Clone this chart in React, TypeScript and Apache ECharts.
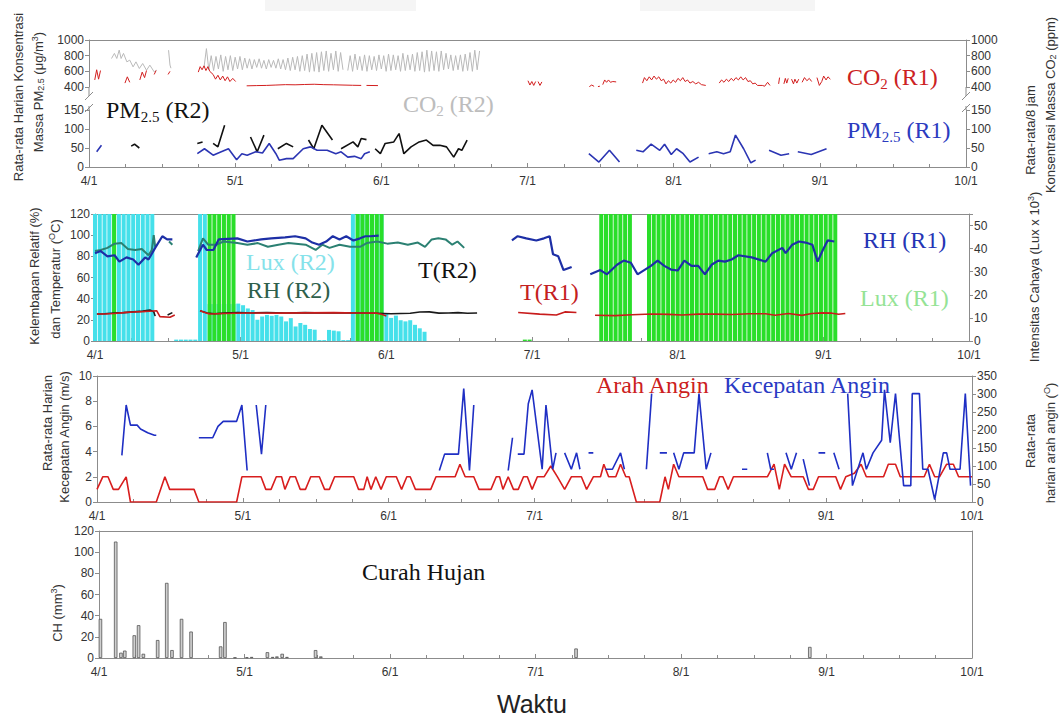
import React, { useEffect, useRef } from 'react';
import * as echarts from 'echarts';

type Pt = [number, number | null];

// ---------- axes / ticks ----------
const MONTHS = ['4/1', '5/1', '6/1', '7/1', '8/1', '9/1', '10/1'];
const DAY_SPAN = 183; // 4/1 .. 10/1 (day index)
const MONTH_STEP = 30.5;

// ---------- Panel 1: CO2 (ppm) and PM2.5 (ug/m3) ----------
const co2R2Seg1: Pt[] = [[4.7, 764], [5.3, 829], [5.8, 764], [6.3, 871], [6.7, 764], [7.2, 829], [7.9, 721], [8.5, 743], [9.2, 657], [9.8, 721], [10.5, 636], [11.2, 700], [12.0, 614], [12.7, 679], [13.6, 593], [14.1, 614]];
const co2R2Seg2: Pt[] = [[16.6, 870], [16.9, 680], [17.1, 640]];
const co2R2StartDay = 24;
const co2R2Trough = [650, 620, 610, 630, 600, 620, 610, 630, 620, 640, 630, 650, 640, 630, 650, 640, 630, 620, 610, 620, 600, 610, 590, 600, 590, 610, 600, 620, 600, 620, 610, 600, 620, 610, 600, 620, 610, 630, 600, 610, 620, 600, 610, 620, 600, 610, 590, 600, 610, 600, 620, 630, 610, 620, 600, 610, 600, 620];
const co2R2Peak = [890, 800, 790, 810, 790, 800, 780, 790, 770, 760, 750, 760, 740, 750, 740, 760, 750, 770, 780, 790, 800, 820, 830, 840, 850, 860, 830, 860, 840, null, 800, 820, 790, 810, 800, 790, 810, 800, 820, 810, 800, 830, 810, 820, 840, 850, 870, 860, 850, 860, 830, 810, 800, 810, 820, 840, 870, 860];

const co2R1Segs: Pt[][] = [
  [[1.2, 490], [1.6, 620], [2.0, 500], [2.4, 610]],
  [[7.5, 450], [8.0, 530], [8.5, 460]],
  [[10.6, 490], [11.1, 590], [11.6, 520], [12.0, 610]],
  [[13.6, 560], [14.0, 610]],
  [[16.5, 560], [16.9, 600]],
  [[22.8, 590], [23.2, 660], [23.6, 620], [24.0, 670], [24.4, 610], [24.8, 660], [25.2, 600], [25.9, 560], [26.4, 500], [26.9, 550], [27.4, 490], [27.9, 540], [28.4, 480], [28.9, 530], [29.4, 470], [30.0, 510], [30.6, 470]],
  [[32.9, 415], [35, 418], [37, 420], [39, 425], [41, 430], [43, 428], [45, 432], [47, 435], [49, 430], [51, 428], [53, 425], [55, 422], [56.8, 420]],
  [[57.9, 420], [60.3, 418]],
  [[91.6, 480], [92.0, 425], [92.4, 470], [92.8, 420], [93.2, 470]],
  [[93.7, 470], [94.1, 420], [94.5, 465]],
  [[104.4, 405], [104.9, 425], [105.4, 408]],
  [[106.2, 405], [106.6, 410]],
  [[107.2, 430], [107.6, 490], [108.0, 460], [108.4, 490], [108.8, 460], [109.3, 470], [110.0, 465]],
  [[115.5, 450], [115.9, 520], [116.4, 480], [116.9, 530], [117.4, 490], [117.9, 540], [118.4, 500], [118.9, 530], [119.4, 480], [119.9, 500], [120.4, 440], [120.9, 480], [121.4, 450], [121.9, 490], [122.4, 460], [122.9, 510], [123.4, 480], [123.9, 520], [124.4, 470], [124.9, 490], [125.4, 450], [126, 470], [126.6, 440], [127.2, 460], [127.8, 430], [128.7, 420]],
  [[131.5, 450], [132, 490], [132.5, 460], [133, 500], [133.5, 470], [134, 510], [134.5, 480], [135, 520], [135.5, 490], [136, 530], [136.5, 490], [137, 520], [137.5, 470], [138, 480], [138.5, 440], [139, 450], [139.5, 420], [140.5, 420], [141, 410], [141.6, 460], [142.1, 420]],
  [[143.9, 440], [144.1, 520]],
  [[145.0, 440], [145.3, 510], [145.6, 450], [145.9, 510]],
  [[146.6, 500], [147.0, 440], [147.3, 500], [147.7, 450], [148.1, 500]],
  [[148.8, 460], [149.3, 520], [149.8, 480], [150.3, 510], [150.8, 470]],
  [[151.9, 520], [152.4, 420], [152.9, 470], [153.3, 540], [153.8, 490], [154.2, 530], [154.7, 500]],
];

const pm25R1Segs: Pt[][] = [
  [[1.6, 40], [2.6, 57]],
  [[22.6, 35], [24.1, 48], [25.9, 31], [27.6, 40], [29.1, 48], [30.8, 19], [31.9, 35], [33.0, 31], [34.8, 40], [36.2, 37], [37.6, 62], [39.0, 35], [39.7, 18], [41.2, 22], [42.6, 22], [44.7, 48], [46.2, 53], [47.6, 44], [49.7, 44], [51.5, 35], [52.6, 40], [54.0, 26], [55.4, 28], [56.8, 22], [57.5, 35], [58.6, 40]],
  [[104.3, 35], [106.4, 13], [108.6, 44], [110.7, 13]],
  [[114.2, 44], [115.6, 40], [117.3, 60], [119.1, 44], [120.1, 60], [121.5, 33], [122.6, 48], [124.0, 35], [125.4, 13], [127.2, 26]],
  [[129.3, 35], [131.0, 40], [132.4, 35], [133.8, 40], [134.9, 84], [136.6, 48], [138.1, 11], [139.1, 18]],
  [[141.9, 44], [144.4, 31], [146.1, 35]],
  [[147.9, 40], [150.7, 33], [153.9, 48]],
];

const pm25R2Segs: Pt[][] = [
  [[8.8, 55], [9.5, 60], [10.5, 50]],
  [[22.6, 62], [23.7, 66]],
  [[25.9, 62], [26.9, 53], [28.3, 110]],
  [[33.7, 79], [35.1, 40], [36.5, 84]],
  [[39.4, 48], [41.2, 62], [42.6, 53]],
  [[45.8, 71], [46.9, 48], [48.6, 110], [50.8, 71]],
  [[52.6, 48], [55.1, 66], [56.1, 53], [56.8, 75], [57.9, 72]],
  [[59.7, 48], [60.8, 35], [61.8, 62], [63.6, 66], [64.7, 88], [65.7, 35], [67.2, 53], [68.9, 66], [70.4, 71], [71.8, 57], [73.2, 57], [74.6, 53], [76.1, 26], [77.1, 48], [77.8, 44], [78.9, 71]],
];

// ---------- Panel 2: RH (%), T (C), Lux (x1000) ----------
const rhR1Segs: Pt[][] = [
  [[0, 83], [1.2, 85], [2.6, 80], [4.1, 81], [5.1, 75], [6.6, 79], [8.0, 77], [9.1, 72], [10.5, 79], [11.2, 77], [12.6, 88], [14.1, 99], [15.1, 96], [16.2, 96]],
  [[21.2, 79], [22.6, 91], [23.4, 86], [24.8, 86], [25.9, 96], [29.8, 97], [31.9, 94], [34.8, 96], [36.9, 97], [39.8, 98], [41.9, 99], [44.1, 97], [45.5, 93], [46.9, 91], [48.4, 94], [49.8, 99], [51.2, 96], [52.6, 99], [54.1, 95], [55.5, 97], [56.6, 99], [57.6, 99], [59.4, 99.5]],
  [[87.3, 95], [88.5, 99], [90.3, 97], [92.4, 95], [94, 97], [95.2, 99], [95.9, 82], [97, 80], [98.1, 67], [99.8, 70]],
  [[103.7, 63], [105.8, 67], [107.2, 63], [109.3, 72], [110.7, 76], [112.2, 74], [113.6, 63], [115.0, 67], [116.4, 71], [117.8, 76], [119.2, 71], [120.6, 67.5], [122.0, 66.6], [123.4, 76], [124.9, 71], [126.3, 71], [127.7, 63], [129.1, 72], [130.5, 76], [131.9, 75], [133.3, 77], [134.7, 81], [137.5, 79], [140.4, 75], [141.8, 83], [143.9, 88], [144.6, 83], [146.0, 91], [147.4, 94], [148.8, 93], [150.2, 91], [151.3, 75], [152.4, 86], [153.4, 95], [154.8, 94]],
];
const rhR2Segs: Pt[][] = [
  [[0, 85], [1.2, 86], [2.6, 88], [4.1, 92], [5.5, 92.5], [6.9, 87], [8.4, 86], [9.8, 87], [11.2, 81], [11.9, 86], [12.3, 100], [12.6, 89]],
  [[15.5, 94], [16.2, 91]],
  [[21.6, 85], [22.6, 97], [23.7, 91], [25.5, 91], [26.9, 94], [29.8, 92.5], [31.9, 91], [34.1, 92.5], [36.2, 89], [38.4, 91], [40.5, 92.5], [44.1, 91], [46.2, 86], [47.6, 91], [49.1, 88], [51.2, 91], [53.4, 89], [55.5, 89], [56.9, 92.5], [59.1, 94], [61.2, 92], [63.4, 93], [65.5, 91], [67.6, 93], [69.1, 89], [70.5, 96], [71.9, 97], [73.4, 96], [74.8, 91], [75.9, 94], [77.3, 88]],
];
const tR2Segs: Pt[][] = [
  [[0.4, 25.5], [2, 25.8], [4, 26.5], [6, 26.8], [8, 27.5], [10, 28.2], [11.5, 29.2], [12.3, 27.7], [12.6, 23.5]],
  [[15.2, 24.6], [16.2, 26.8]],
  [[22, 28.6], [23.5, 26.5], [25, 25.8], [27, 26.3], [30, 27], [33, 26.5], [36, 27], [40, 26.5], [44, 26.8], [48, 26.4], [52, 26.6], [56, 26.5], [59, 26.2], [62, 25.8], [66, 26.2], [68, 27.4], [70, 27.5], [72, 26.3], [74, 26.5], [76, 26.8], [78, 26.2], [80, 26.5]],
];
const tR1Segs: Pt[][] = [
  [[0.4, 25.5], [2, 25.5], [4, 26], [6, 26.8], [8, 27.4], [10, 27.8], [12, 28.3], [12.9, 28.6], [13.6, 23], [15.7, 22.5], [16.7, 24.6]],
  [[22, 28.6], [23, 27], [24, 25.5], [27, 26], [32, 26.5], [38, 26.3], [44, 26.6], [50, 26.8], [55, 26.5], [59, 26.3], [60, 25.2], [61, 23.7]],
  [[88.6, 27], [93.1, 25.4], [96.6, 24.5], [98.4, 27.5], [100.8, 26.9]],
  [[104.7, 24.4], [108.9, 24], [112.4, 24.8], [116.6, 25.5], [120.1, 25.2], [122.9, 24.6], [126.4, 25.4], [129.9, 25.4], [133.4, 25.1], [136.9, 25.8], [140.4, 25.7], [142.4, 24.4], [145.2, 26], [148, 24.2], [150.1, 26], [152.2, 26.6], [154.3, 26.3], [155.7, 25.2], [157.1, 26]],
];
// daily light intensity, first day given, values in Lux x 10^3 (60 = above the axis top)
const luxR2Start = 0;
const luxR2Daily = [60, 60, 60, 60, 60, 60, 60, 60, 60, 60, 60, 60, 60, null, null, null, null, 0.6, 0.6, 0.6, 0.6, 0.6, 60, 60, 16, 16, 16, 16, 16, 16, 16.2, 15.5, 14.1, 13.4, 9.2, 10.6, 11.3, 10.9, 11.3, 10.6, 8.5, 9.9, 6.3, 7.8, 7, 5.2, 4.9, 0.4, 0.4, 4.8, 4.5, 4.2, 0.4, 0.4, 60, 60, 60, 60, 60, 60, 60, 12, 10, 11, 9, 8.5, 9, 7, 5.5, 4];
const luxR1Blocks: { start: number; values: number[] }[] = [
  { start: 4, values: [60] },
  { start: 24, values: [60, 60, 60, 60, 60, 60] },
  { start: 55, values: [60, 60, 60, 60, 60, 60] },
  { start: 90, values: [0.6, 0.6] },
  { start: 106, values: [60, 60, 60, 60, 60, 60, 60] },
  { start: 116, values: [60, 60, 60, 60, 60, 60, 60, 60, 60, 60, 60, 60, 60, 60, 60, 60, 60, 60, 60, 60, 60, 60, 60, 60, 60, 60, 60, 60, 60, 60, 60, 60, 60, 60, 60, 60, 60, 60, 60, 60] },
];

// ---------- Panel 3: wind speed (m/s) and direction (deg) ----------
const windSpeedSegs: Pt[][] = [
  [[5.2, 3.7], [6.1, 7.7], [7.0, 6.1], [8.4, 6.1], [9.1, 5.8], [10.6, 5.5], [12.0, 5.3], [12.4, 5.3]],
  [[21.3, 5.1], [24.2, 5.1], [25.3, 6.0], [26.4, 6.4], [29.2, 6.4], [30.3, 7.7], [31.4, 2.5]],
  [[33.3, 7.7], [34.4, 3.8], [35.3, 7.7]],
  [[71.6, 2.5], [72.7, 3.8], [75.6, 3.8], [76.7, 9.0], [77.9, 2.5], [78.8, 7.7]],
  [[86.0, 2.5], [86.9, 5.1]],
  [[88.0, 3.8], [89.3, 3.8], [90.2, 7.8], [91.0, 8.9], [93.1, 2.6], [93.9, 7.7], [95.3, 2.6], [96.0, 3.9]],
  [[97.8, 3.9], [99.2, 2.6], [100.3, 3.9], [101.0, 2.6]],
  [[102.8, 3.9], [103.8, 3.9]],
  [[106.3, 2.6], [107.8, 2.6], [109.5, 3.9], [110.3, 2.6]],
  [[114.9, 2.6], [116.0, 8.6]],
  [[117.7, 3.9], [119.2, 3.9]],
  [[120.6, 3.9], [121.7, 2.6], [122.7, 3.9], [124.9, 3.9], [125.9, 8.6], [127.4, 2.6], [128.4, 3.9]],
  [[134.9, 2.6], [136.0, 2.6]],
  [[140.2, 3.9], [140.9, 2.6], [141.6, 2.6]],
  [[144.1, 3.9], [145.2, 2.6], [146.3, 3.9]],
  [[147.7, 3.4], [149.0, 1.3]],
  [[150.9, 3.9], [152.3, 3.9]],
  [[154.1, 3.9], [155.2, 2.6]],
  [[157.0, 8.6], [158.0, 1.3], [160.2, 3.9], [160.9, 2.6], [162.3, 3.9], [164.1, 4.9], [164.7, 8.9], [165.9, 4.7], [167.0, 8.6], [168.7, 1.3], [170.2, 1.3], [170.5, 8.6], [172.0, 8.6], [172.7, 2.6], [173.8, 2.6], [175.2, 0.2], [177.0, 3.9], [177.7, 3.9], [178.4, 2.6], [180.5, 2.6], [181.6, 8.6], [182.7, 1.3]],
];
const windDir: Pt[] = [[0, 35], [1.2, 70], [2.3, 70], [3.4, 35], [4.5, 35], [6.1, 70], [7.0, 0], [12.4, 0], [14.2, 70], [15.2, 35], [20.3, 35], [21.3, 0], [29.2, 0], [30.3, 70], [34.3, 70], [35.3, 35], [36.4, 35], [37.5, 70], [38.6, 70], [39.3, 35], [40.4, 70], [41.5, 70], [42.5, 35], [43.6, 35], [44.7, 70], [46.5, 70], [47.6, 35], [48.6, 35], [49.7, 70], [53.7, 70], [54.7, 35], [55.8, 35], [56.5, 70], [57.3, 35], [58.3, 70], [59.4, 35], [60.5, 70], [62.6, 70], [63.7, 35], [64.8, 70], [65.5, 70], [66.6, 35], [69.8, 35], [70.9, 70], [74.9, 70], [75.9, 105], [77.0, 70], [78.8, 70], [79.9, 35], [82.4, 35], [83.5, 70], [84.2, 70], [84.9, 35], [86.0, 70], [87.1, 35], [88.1, 35], [89.2, 70], [90.0, 70], [91.0, 35], [92.1, 70], [93.5, 70], [94.9, 100], [96.3, 70], [97.8, 35], [99.2, 70], [101.3, 70], [102.4, 35], [103.8, 70], [105.3, 70], [106.0, 105], [107.0, 70], [108.5, 70], [109.5, 105], [110.6, 70], [111.3, 70], [112.8, 0], [117.7, 0], [118.8, 70], [119.5, 35], [120.6, 105], [121.7, 70], [126.7, 70], [127.7, 35], [129.2, 35], [130.2, 70], [130.9, 70], [132.0, 35], [133.1, 70], [140.2, 70], [141.6, 105], [142.7, 35], [143.8, 105], [145.2, 70], [147.7, 70], [148.8, 35], [149.8, 35], [150.9, 70], [154.5, 70], [155.5, 35], [156.6, 70], [158.4, 80], [159.8, 105], [160.9, 70], [164.5, 70], [165.5, 105], [167.0, 105], [168.0, 70], [173.0, 70], [174.1, 105], [175.2, 70], [176.2, 70], [177.7, 105], [179.1, 105], [180.2, 70], [183, 70]];

// ---------- Panel 4: rainfall ----------
const rainfall: Pt[] = [[0.3, 37], [3.5, 110], [4.6, 5], [5.4, 7], [7.4, 21.5], [8.3, 31], [9.3, 4], [12.3, 17], [14.2, 71], [15.3, 7.5], [17.3, 37], [19.3, 25], [25.5, 11], [26.4, 34], [28.5, 0.5], [31, 0.7], [32, 1], [35.3, 5.5], [36.4, 1], [37.3, 1.5], [38.4, 4], [39.4, 1], [45.4, 7.5], [46.5, 1.5], [100, 9], [149, 10.5]];

// ---------- helpers ----------
function joinSegs(segs: Pt[][]): Pt[] {
  const out: Pt[] = [];
  segs.forEach((s, i) => {
    if (i > 0) out.push([(segs[i - 1][segs[i - 1].length - 1][0] + s[0][0]) / 2, null]);
    out.push(...s);
  });
  return out;
}
function dailyPairs(start: number, vals: (number | null)[]): Pt[] {
  return vals.map((v, i) => [start + i, v] as Pt);
}
function co2R2Main(): Pt[] {
  const out: Pt[] = [];
  co2R2Trough.forEach((t, i) => {
    out.push([co2R2StartDay + i, t]);
    if (i < co2R2Peak.length) out.push([co2R2StartDay + i + 0.5, co2R2Peak[i]]);
  });
  return out;
}

const AX = '#8c8c8c';
const SANS = '"Liberation Sans", Arial, sans-serif';
const SERIF = '"Liberation Serif", "Times New Roman", serif';
const LBL = { color: '#333', fontSize: 12, fontFamily: SANS };

function xAxisMain(gridIndex: number) {
  return {
    type: 'value', gridIndex, position: 'bottom', min: 0, max: DAY_SPAN, interval: MONTH_STEP,
    axisLine: { show: true, onZero: false, lineStyle: { color: AX, width: 1 } },
    axisTick: { show: true, inside: true, length: 4, lineStyle: { color: AX } },
    minorTick: { show: true, splitNumber: 4, length: 3, lineStyle: { color: AX } },
    axisLabel: { ...LBL, margin: 8, formatter: (v: number) => MONTHS[Math.round(v / MONTH_STEP)] ?? '' },
    splitLine: { show: false }, minorSplitLine: { show: false },
  };
}
function xAxisBorder(gridIndex: number) {
  return {
    type: 'value', gridIndex, position: 'top', min: 0, max: DAY_SPAN,
    axisLine: { show: true, onZero: false, lineStyle: { color: AX, width: 1 } },
    axisTick: { show: false }, axisLabel: { show: false }, splitLine: { show: false },
  };
}
const plain = (v: number) => String(v);
function yAxis(gridIndex: number, position: string, min: number, max: number, interval: number, showLabels = true, formatter: any = plain) {
  return {
    type: 'value', gridIndex, position, min, max, interval,
    axisLine: { show: true, onZero: false, lineStyle: { color: AX, width: 1 } },
    axisTick: { show: showLabels, length: 4, lineStyle: { color: AX } },
    axisLabel: { show: showLabels, ...LBL, margin: 5, formatter },
    splitLine: { show: false },
  };
}
function line(data: Pt[], color: string, width: number, xi: number, yi: number) {
  return {
    type: 'line', data, xAxisIndex: xi, yAxisIndex: yi, showSymbol: false, symbol: 'none',
    lineStyle: { color, width }, itemStyle: { color }, connectNulls: false, clip: true, silent: true,
  };
}

const subRich = (color: string) => ({
  s: { fontSize: 15, fontFamily: SERIF, lineHeight: 15, padding: [14, 0, 0, 0], verticalAlign: 'bottom', fill: color },
});
function bigLabel(x: number, y: number, text: string, color: string) {
  return {
    type: 'text', x, y, z: 100, silent: true,
    style: { text, fill: color, font: `24px ${SERIF}`, lineHeight: 28, textAlign: 'left', textVerticalAlign: 'middle', rich: subRich(color) },
  };
}
function vTitle(x: number, y: number, text: string) {
  return {
    type: 'text', x, y, rotation: Math.PI / 2, z: 100, silent: true,
    style: {
      text, fill: '#333', font: `13px ${SANS}`, lineHeight: 15, textAlign: 'center', textVerticalAlign: 'middle',
      rich: {
        sub: { fontSize: 9, fontFamily: SANS, lineHeight: 9, padding: [8, 0, 0, 0], verticalAlign: 'bottom', fill: '#333' },
        sup: { fontSize: 9, fontFamily: SANS, lineHeight: 9, verticalAlign: 'top', fill: '#333' },
      },
    },
  };
}
function gline(x1: number, y1: number, x2: number, y2: number) {
  return { type: 'line', silent: true, z: 100, shape: { x1, y1, x2, y2 }, style: { stroke: AX, lineWidth: 1 } };
}

function buildOption() {
  const luxR1: Pt[] = [];
  luxR1Blocks.forEach((b) => luxR1.push(...dailyPairs(b.start, b.values)));
  const luxR2 = dailyPairs(luxR2Start, luxR2Daily);
  const co2R2 = joinSegs([co2R2Seg1, co2R2Seg2, co2R2Main()]);

  return {
    animation: false,
    backgroundColor: '#ffffff',
    grid: [
      { left: 89, right: 95, top: 40, height: 47 },
      { left: 89, right: 95, top: 110, height: 57 },
      { left: 95, right: 92, top: 214, height: 127 },
      { left: 97, right: 89, top: 376, height: 126 },
      { left: 99, right: 89, top: 531, height: 127 },
    ],
    xAxis: [
      xAxisBorder(0),
      xAxisMain(1),
      xAxisMain(2), xAxisBorder(2),
      xAxisMain(3), xAxisBorder(3),
      xAxisMain(4), xAxisBorder(4),
    ],
    yAxis: [
      yAxis(0, 'left', 400, 1000, 200),
      yAxis(0, 'right', 400, 1000, 200),
      yAxis(1, 'left', 0, 150, 50),
      yAxis(1, 'right', 0, 150, 50),
      yAxis(2, 'left', 0, 120, 20),
      yAxis(2, 'right', 0, 55, 10, true, (v: number) => (v % 10 === 0 ? String(v) : '')),
      yAxis(3, 'left', 0, 10, 2),
      yAxis(3, 'right', 0, 350, 50),
      yAxis(4, 'left', 0, 120, 20),
      yAxis(4, 'right', 0, 120, 20, false),
    ],
    series: [
      // panel 1
      line(co2R2, '#b9b9b9', 1, 0, 0),
      line(joinSegs(co2R1Segs), '#d21f1f', 1, 0, 0),
      line(joinSegs(pm25R2Segs), '#111111', 1.6, 1, 2),
      line(joinSegs(pm25R1Segs), '#2b35b3', 1.6, 1, 2),
      // panel 2
      { type: 'bar', data: luxR2, xAxisIndex: 2, yAxisIndex: 5, barWidth: 4, barGap: '-100%', clip: true, silent: true, itemStyle: { color: '#45e0ea' } },
      { type: 'bar', data: luxR1, xAxisIndex: 2, yAxisIndex: 5, barWidth: 4, barGap: '-100%', clip: true, silent: true, itemStyle: { color: '#2ade2a' } },
      line(joinSegs(rhR2Segs), '#2b8072', 2, 2, 4),
      line(joinSegs(rhR1Segs), '#1d2fa6', 2.2, 2, 4),
      line(joinSegs(tR2Segs), '#1a1a1a', 1.6, 2, 4),
      line(joinSegs(tR1Segs), '#c81c1c', 1.6, 2, 4),
      // panel 3
      line(windDir, '#d81e1e', 1.6, 4, 7),
      line(joinSegs(windSpeedSegs), '#1f2fc4', 1.6, 4, 6),
      // panel 4
      { type: 'bar', data: rainfall, xAxisIndex: 6, yAxisIndex: 8, barWidth: 3.5, clip: true, silent: true, itemStyle: { color: '#cfcfcf', borderColor: '#555', borderWidth: 0.8 } },
    ],
    graphic: [
      { type: 'rect', silent: true, shape: { x: 265, y: 0, width: 151, height: 11 }, style: { fill: '#f5f5f5' } },
      { type: 'rect', silent: true, shape: { x: 640, y: 0, width: 175, height: 11 }, style: { fill: '#f5f5f5' } },
      // axis breaks panel 1
      gline(89, 87, 89, 96), gline(85, 100, 93, 92), gline(85, 112, 93, 104), gline(89, 106, 89, 110),
      gline(966, 87, 966, 96), gline(962, 100, 970, 92), gline(962, 112, 970, 104), gline(966, 106, 966, 110),
      // series labels
      bigLabel(106, 110, 'PM{s|2.5} (R2)', '#111111'),
      bigLabel(403, 104, 'CO{s|2} (R2)', '#bdbdbd'),
      bigLabel(847, 77, 'CO{s|2} (R1)', '#cc2222'),
      bigLabel(847, 130, 'PM{s|2.5} (R1)', '#2b3bbf'),
      bigLabel(246, 262, 'Lux (R2)', '#86e2ea'),
      bigLabel(247, 290, 'RH (R2)', '#2e5f4b'),
      bigLabel(418, 270, 'T(R2)', '#111111'),
      bigLabel(520, 292, 'T(R1)', '#c42020'),
      bigLabel(863, 240, 'RH (R1)', '#2535b5'),
      bigLabel(860, 298, 'Lux (R1)', '#95e395'),
      bigLabel(596, 385, 'Arah Angin', '#cc2020'),
      bigLabel(724, 385, 'Kecepatan Angin', '#2a3ac4'),
      bigLabel(362, 572, 'Curah Hujan', '#111111'),
      { type: 'text', x: 532, y: 704, z: 100, silent: true, style: { text: 'Waktu', fill: '#222', font: `25px ${SANS}`, textAlign: 'center', textVerticalAlign: 'middle' } },
      // axis titles
      vTitle(18, 97, 'Rata-rata Harian Konsentrasi'),
      vTitle(38, 92, 'Massa PM{sub|2.5} (μg/m{sup|3})'),
      vTitle(1030, 130, 'Rata-rata/8 jam'),
      vTitle(1050, 105, 'Konsentrasi Massa CO{sub|2} (ppm)'),
      vTitle(34, 276, 'Kelembapan Relatif (%)'),
      vTitle(55, 279, 'dan Temperatur ({sup|O}C)'),
      vTitle(1034, 277, 'Intensitas Cahaya (Lux x 10{sup|3})'),
      vTitle(47, 423, 'Rata-rata Harian'),
      vTitle(64, 437, 'Kecepatan Angin (m/s)'),
      vTitle(1030, 441, 'Rata-rata'),
      vTitle(1050, 443, 'harian arah angin ({sup|O})'),
      vTitle(57, 613, 'CH (mm{sup|3})'),
    ],
  };
}

export default function App() {
  const ref = useRef<HTMLDivElement>(null);
  useEffect(() => {
    if (!ref.current) return;
    const chart = echarts.init(ref.current, null, { renderer: 'svg' });
    chart.setOption(buildOption() as any);
    return () => chart.dispose();
  }, []);
  return (
    <div
      ref={ref}
      style={{ position: 'absolute', left: 0, top: 0, width: 1061, height: 718, background: '#fff' }}
    />
  );
}
